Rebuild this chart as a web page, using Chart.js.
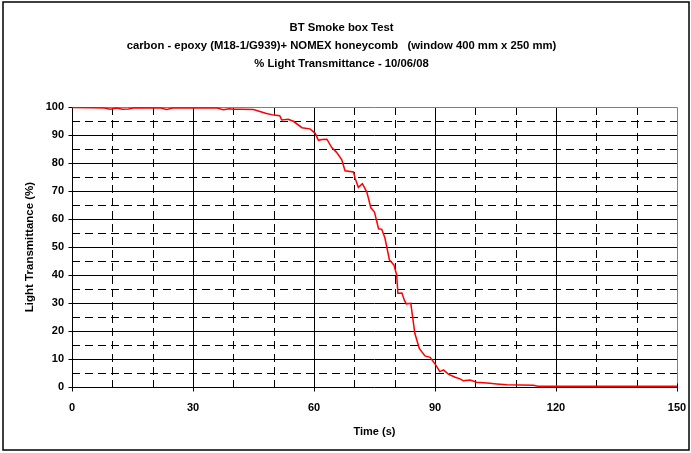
<!DOCTYPE html>
<html>
<head>
<meta charset="utf-8">
<script src="https://cdn.jsdelivr.net/npm/chart.js@4/dist/chart.umd.min.js"></script>
<style>
html,body{margin:0;padding:0;background:#fff;}
#wrap{position:relative;width:691px;height:453px;}
</style>
</head>
<body>
<div id="wrap"><canvas id="c" width="691" height="453"></canvas></div>
<script>
const titleLines = ['BT Smoke box Test', 'carbon - epoxy (M18-1/G939)+ NOMEX honeycomb   (window 400 mm x 250 mm)', '% Light Transmittance - 10/06/08'];
const xTitle = 'Time (s)';
const yTitle = 'Light Transmittance (%)';
const xTicks = [0, 30, 60, 90, 120, 150];
const yTicks = [0, 10, 20, 30, 40, 50, 60, 70, 80, 90, 100];
const times = [0, 5, 8, 9.5, 11, 12.5, 14, 15.5, 22, 23.5, 25, 36, 37.5, 39, 40, 42, 45, 48, 50, 51.5, 52, 53.6, 54.9, 57, 59, 60.3, 61.1, 62, 63.2, 64.4, 65.6, 66.9, 67.7, 69.8, 70.2, 71.0, 72.0, 73.1, 74.1, 75.0, 76.0, 76.8, 77.6, 78.7, 79.8, 80.5, 80.8, 81.8, 82.4, 82.9, 84, 85, 86.1, 87.5, 88.8, 90.2, 91.2, 92.1, 93.3, 95, 96.2, 97, 98.7, 100.3, 103.6, 105.3, 107.8, 114.4, 115.5, 150];
const values = [99.8, 99.7, 99.6, 99.2, 99.6, 99.2, 99.3, 99.7, 99.6, 99.1, 99.6, 99.6, 99.0, 99.4, 99.2, 99.2, 99.1, 97.8, 97.1, 96.9, 95.4, 95.6, 94.9, 92.6, 92.2, 90.6, 88.1, 88.4, 88.5, 85.5, 83.8, 81.1, 77.2, 76.8, 74.5, 71.3, 72.6, 69.6, 64.0, 62.5, 56.5, 56.3, 53.1, 45.4, 43.6, 40.0, 33.5, 33.6, 31.0, 29.7, 29.9, 19.2, 13.8, 11.1, 10.6, 7.8, 5.5, 6.1, 4.6, 3.5, 2.9, 2.2, 2.5, 1.7, 1.3, 1.1, 0.8, 0.6, 0.3, 0.3];

const FONT = 'Liberation Sans, Arial, sans-serif';
const points = times.map((t, i) => ({x: t, y: values[i]}));

const gridPlugin = {
  id: 'excelGrid',
  beforeDatasetsDraw(chart) {
    const ctx = chart.ctx;
    const xs = chart.scales.x, ys = chart.scales.y;
    const L = chart.chartArea.left, R = chart.chartArea.right, T = chart.chartArea.top, B = chart.chartArea.bottom;
    ctx.save();
    ctx.lineWidth = 1;
    for (let v = 5; v < 100; v += 5) {
      const y = Math.round(ys.getPixelForValue(v)) + 0.5;
      ctx.strokeStyle = '#000';
      ctx.setLineDash(v % 10 === 0 ? [] : [8, 5]);
      ctx.beginPath(); ctx.moveTo(L, y); ctx.lineTo(R, y); ctx.stroke();
    }
    for (let t = 10; t < 150; t += 10) {
      const x = Math.round(xs.getPixelForValue(t)) + 0.5;
      ctx.strokeStyle = '#000';
      ctx.setLineDash(t % 30 === 0 ? [] : [8, 5]);
      ctx.beginPath(); ctx.moveTo(x, T); ctx.lineTo(x, B); ctx.stroke();
    }
    ctx.setLineDash([]);
    ctx.strokeStyle = '#808080';
    const yt = Math.round(ys.getPixelForValue(100)) + 0.5;
    const xr = Math.round(xs.getPixelForValue(150)) + 0.5;
    ctx.beginPath(); ctx.moveTo(L, yt); ctx.lineTo(xr, yt); ctx.lineTo(xr, B); ctx.stroke();
    ctx.strokeStyle = '#000';
    const x0 = Math.round(xs.getPixelForValue(0)) + 0.5;
    const y0 = Math.round(ys.getPixelForValue(0)) + 0.5;
    ctx.beginPath(); ctx.moveTo(x0, T); ctx.lineTo(x0, y0); ctx.lineTo(R, y0); ctx.stroke();
    for (let v = 0; v <= 100; v += 10) {
      const y = Math.round(ys.getPixelForValue(v)) + 0.5;
      ctx.beginPath(); ctx.moveTo(x0 - 4, y); ctx.lineTo(x0, y); ctx.stroke();
    }
    for (let t = 0; t <= 150; t += 10) {
      const x = Math.round(xs.getPixelForValue(t)) + 0.5;
      ctx.beginPath();
      if (t % 30 === 0) { ctx.moveTo(x, y0 - 4); ctx.lineTo(x, y0 + 4); }
      else { ctx.moveTo(x, y0 - 4); ctx.lineTo(x, y0); }
      ctx.stroke();
    }
    ctx.restore();
  },
  afterDraw(chart) {
    const ctx = chart.ctx;
    ctx.save();
    ctx.strokeStyle = '#000';
    ctx.lineWidth = 1.5;
    ctx.strokeRect(3, 2, 686, 448);
    ctx.restore();
  }
};

new Chart(document.getElementById('c'), {
  type: 'scatter',
  data: {
    datasets: [{
      data: points,
      showLine: true,
      borderColor: '#ff0000',
      borderWidth: 1.5,
      pointRadius: 0,
      tension: 0
    }]
  },
  options: {
    responsive: false,
    animation: false,
    devicePixelRatio: 1,
    layout: {padding: {left: 6, right: 14, top: 0, bottom: 14}},
    plugins: {
      legend: {display: false},
      tooltip: {enabled: false},
      title: {
        display: true,
        text: titleLines,
        color: '#000',
        font: {family: FONT, size: 11.3, weight: 'bold', lineHeight: 18 / 11.3},
        padding: {top: 19, bottom: 34}
      }
    },
    scales: {
      x: {
        type: 'linear', min: 0, max: 150,
        afterBuildTicks: s => { s.ticks = xTicks.map(v => ({value: v})); },
        ticks: {color: '#000', font: {family: FONT, size: 11, weight: 'bold'}, padding: 14, maxRotation: 0, autoSkip: false},
        grid: {display: false, drawTicks: false},
        border: {display: false},
        title: {display: true, text: xTitle, color: '#000', font: {family: FONT, size: 11, weight: 'bold'}, padding: {top: 4, bottom: 0}},
        afterFit: s => { s.height = 453 - 387 - 14; s.paddingLeft = 0; s.paddingRight = 0; }
      },
      y: {
        min: 0, max: 100,
        afterBuildTicks: s => { s.ticks = yTicks.map(v => ({value: v})); },
        ticks: {color: '#000', font: {family: FONT, size: 11, weight: 'bold'}, padding: 8, autoSkip: false},
        grid: {display: false, drawTicks: false},
        border: {display: false},
        title: {display: true, text: yTitle, color: '#000', font: {family: FONT, size: 11.5, weight: 'bold'}, padding: {top: 17, bottom: 0}},
        afterFit: s => { s.width = 72 - 6; s.paddingTop = 0; s.paddingBottom = 0; }
      }
    }
  },
  plugins: [gridPlugin]
});
</script>
</body>
</html>
